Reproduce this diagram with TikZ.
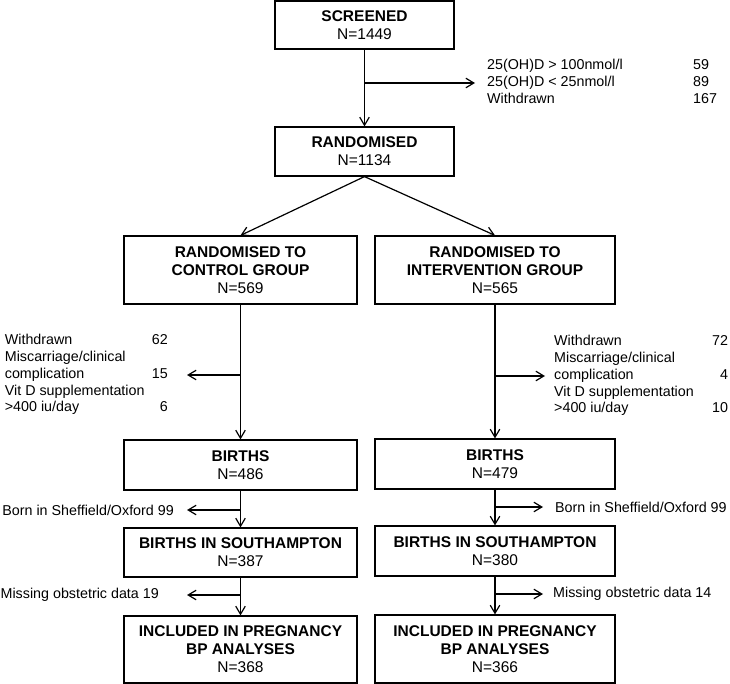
\documentclass[tikz,border=0pt]{standalone}
\usepackage{fontspec}
\setmainfont{Liberation Sans}
\usetikzlibrary{arrows.meta}
\begin{document}
\begin{tikzpicture}[x=1pt,y=-1pt,
  box/.style={draw, line width=1.2pt, align=center, inner sep=0pt, font=\fontsize{15.5}{18}\selectfont},
  cbox/.style={box, minimum width=233pt},
  ibox/.style={box, minimum width=240pt},
  side/.style={inner ysep=0pt, font=\fontsize{14.3}{16.8}\selectfont},
  flow/.style={draw, line width=1.2pt, -{Straight Barb[length=8pt,width=9.5pt,line width=1.2pt]}}]
\useasboundingbox (0,0) rectangle (730,684);
% main boxes
\node[box, minimum width=179pt, minimum height=48pt] (scr) at (364.5,25) {\textbf{SCREENED}\\N=1449};
\node[box, minimum width=179pt, minimum height=49pt] (rand) at (364.5,151.5) {\textbf{RANDOMISED}\\N=1134};
\node[cbox, minimum height=68pt] (ctrl) at (240.5,270) {\textbf{RANDOMISED TO}\\\textbf{CONTROL GROUP}\\N=569};
\node[ibox, minimum height=68pt] (intv) at (495,270) {\textbf{RANDOMISED TO}\\\textbf{INTERVENTION GROUP}\\N=565};
\node[cbox, minimum height=50pt] (bc) at (240.5,465) {\textbf{BIRTHS}\\N=486};
\node[ibox, minimum height=50pt] (bi) at (495,464) {\textbf{BIRTHS}\\N=479};
\node[cbox, minimum height=49pt] (sc) at (240.5,552.5) {\textbf{BIRTHS IN SOUTHAMPTON}\\N=387};
\node[ibox, minimum height=50pt] (si) at (495,551) {\textbf{BIRTHS IN SOUTHAMPTON}\\N=380};
\node[cbox, minimum height=67pt] (fc) at (240.5,649.5) {\textbf{INCLUDED IN PREGNANCY}\\\textbf{BP ANALYSES}\\N=368};
\node[ibox, minimum height=68pt] (fi) at (495,649) {\textbf{INCLUDED IN PREGNANCY}\\\textbf{BP ANALYSES}\\N=366};
% side texts
\node[side, font=\fontsize{14.3}{17.4}\selectfont, anchor=west, inner xsep=12pt] (t1) at (475,83)
  {\begin{tabular}{@{}p{206pt}@{}l@{}}25(OH)D > 100nmol/l & 59\\25(OH)D < 25nmol/l & 89\\Withdrawn & 167\end{tabular}};
\node[side, anchor=east, inner xsep=19pt] (cx) at (187,375)
  {\begin{tabular}{@{}p{147pt}@{}r@{}}Withdrawn & 62\\Miscarriage/clinical & \\complication & 15\\Vit D supplementation & \\>400 iu/day & 6\end{tabular}};
\node[side, anchor=west, inner xsep=9pt] (ix) at (545,376)
  {\begin{tabular}{@{}p{158pt}@{}r@{}}Withdrawn & 72\\Miscarriage/clinical & \\complication & 4\\Vit D supplementation & \\>400 iu/day & 10\end{tabular}};
\node[side, anchor=east, inner xsep=13pt] (cb) at (187,510) {Born in Sheffield/Oxford 99};
\node[side, anchor=west, inner xsep=12pt] (ib) at (543,507) {Born in Sheffield/Oxford 99};
\node[side, anchor=east, inner xsep=28pt] (cm) at (187,595) {Missing obstetric data 19};
\node[side, anchor=west, inner xsep=10pt] (im) at (543,594) {Missing obstetric data 14};
% connectors
\draw[flow] (scr.south) -- (rand.north);
\draw[flow] (scr.south |- t1.west) -- (t1.west);
\draw[flow] (rand.south) -- (ctrl.north);
\draw[flow] (rand.south) -- (intv.north);
\draw[flow] (ctrl.south) -- (bc.north);
\draw[flow] (intv.south) -- (bi.north);
\draw[flow] (ctrl.south |- cx.east) -- (cx.east);
\draw[flow] (intv.south |- ix.west) -- (ix.west);
\draw[flow] (bc.south) -- (sc.north);
\draw[flow] (bi.south) -- (si.north);
\draw[flow] (bc.south |- cb.east) -- (cb.east);
\draw[flow] (bi.south |- ib.west) -- (ib.west);
\draw[flow] (sc.south) -- (fc.north);
\draw[flow] (si.south) -- (fi.north);
\draw[flow] (sc.south |- cm.east) -- (cm.east);
\draw[flow] (si.south |- im.west) -- (im.west);
\end{tikzpicture}
\end{document}
